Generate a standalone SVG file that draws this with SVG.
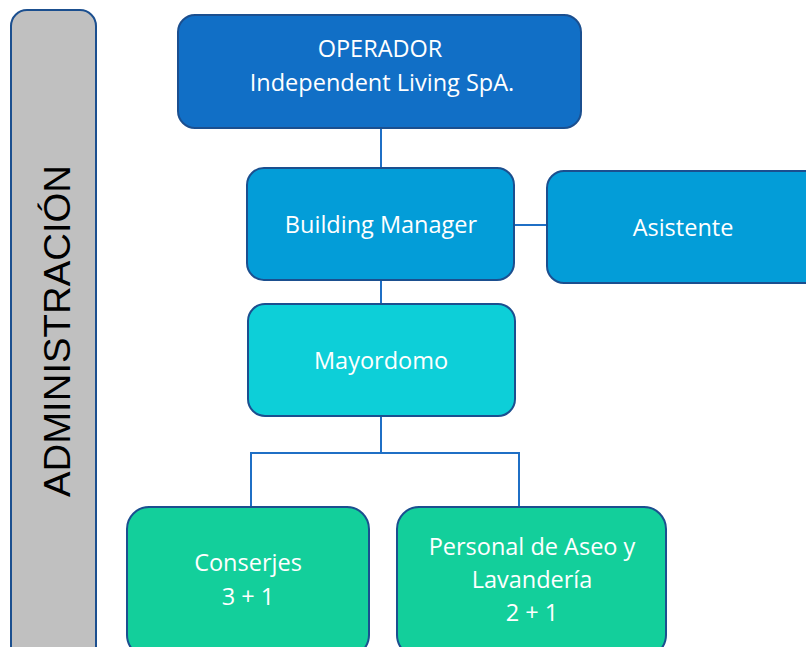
<svg xmlns="http://www.w3.org/2000/svg" width="806" height="647" viewBox="0 0 806 647">
<style>
.box{stroke:#1B4F8F;stroke-width:2}
.t{font-family:"Open Sans","Liberation Sans",sans-serif;font-size:23.5px;fill:#ffffff;text-anchor:middle}
.c{stroke:#1F6FC5;stroke-width:2;fill:none}
</style>
<rect width="806" height="647" fill="#ffffff"/>
<g id="admin">
<rect class="box" x="11" y="10" width="85" height="660" rx="16" fill="#C0C0C0"/>
<text transform="translate(70,331) rotate(-90)" font-family="'Liberation Sans',Arial,sans-serif" font-size="36" fill="#000" text-anchor="middle" textLength="332" lengthAdjust="spacingAndGlyphs">ADMINISTRACIÓN</text>
</g>
<g id="connectors">
<line class="c" x1="381" y1="128" x2="381" y2="168"/>
<line class="c" x1="381" y1="280" x2="381" y2="303"/>
<line class="c" x1="514" y1="225" x2="548" y2="225"/>
<polyline class="c" points="381,416 381,453"/>
<polyline class="c" points="251,508 251,453 519,453 519,508"/>
</g>
<g id="operador">
<rect class="box" x="178" y="15" width="403" height="113" rx="17" fill="#116FC6"/>
<text class="t" x="380" y="57">OPERADOR</text>
<text class="t" x="382" y="91">Independent Living SpA.</text>
</g>
<g id="building-manager">
<rect class="box" x="247" y="168" width="267" height="112" rx="17" fill="#039DD8"/>
<text class="t" x="381" y="233">Building Manager</text>
</g>
<g id="asistente">
<rect class="box" x="547" y="171" width="275" height="112" rx="17" fill="#039DD8"/>
<text class="t" x="683" y="236">Asistente</text>
</g>
<g id="mayordomo">
<rect class="box" x="248" y="304" width="267" height="112" rx="17" fill="#0DCFD8"/>
<text class="t" x="381" y="369">Mayordomo</text>
</g>
<g id="conserjes">
<rect class="box" x="127" y="507" width="242" height="150" rx="22" fill="#13CF9B"/>
<text class="t" x="248" y="571">Conserjes</text>
<text class="t" x="248" y="605">3 + 1</text>
</g>
<g id="personal">
<rect class="box" x="397" y="507" width="269" height="150" rx="22" fill="#13CF9B"/>
<text class="t" x="532" y="555">Personal de Aseo y</text>
<text class="t" x="532" y="588">Lavandería</text>
<text class="t" x="532" y="621">2 + 1</text>
</g>
</svg>
